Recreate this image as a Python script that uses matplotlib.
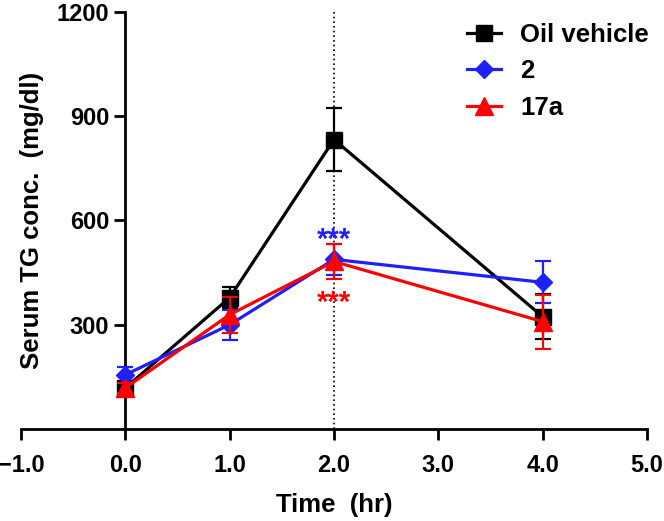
import numpy as np
import matplotlib
matplotlib.use("Agg")
import matplotlib.pyplot as plt
from matplotlib.lines import Line2D

plt.rcParams['font.family'] = ['Liberation Sans', 'DejaVu Sans']
plt.rcParams['font.weight'] = 'bold'

time = [0, 1, 2, 4]
oil = [118, 378, 833, 323]
oil_err = [15, 31, 90, 65]
cmp2 = [156, 300, 488, 422]
cmp2_err = [23, 43, 44, 60]
cmp17a = [118, 329, 482, 309]
cmp17a_err = [15, 52, 50, 78]
xticks = [-1, 0, 1, 2, 3, 4, 5]
yticks = [300, 600, 900, 1200]

fig = plt.figure(figsize=(6.64, 5.21), dpi=100)
ax = fig.add_axes([0.0316, 0.1766, 0.9428, 0.8004])

series = [(oil, oil_err, 'black', 's', 'Oil vehicle', 12, 3),
          (cmp2, cmp2_err, '#1f1fff', 'D', '2', 9.5, 4),
          (cmp17a, cmp17a_err, '#ff0000', '^', '17a', 13, 5)]
handles = []
for vals, err, col, mk, lab, ms, z in series:
    ax.errorbar(time, vals, yerr=err, color=col, marker=mk, markersize=ms,
                linewidth=2.3, elinewidth=1.6, capsize=6, capthick=1.6,
                zorder=z, clip_on=False)
    handles.append(Line2D([], [], color=col, marker=mk, markersize=ms,
                          linewidth=2.3, label=lab))

ax.axvline(2, color='black', linestyle=(0, (1, 1.8)), linewidth=1.2, zorder=1)

ax.text(2, 545, '***', color='#1f1fff', ha='center', va='center', fontsize=21)
ax.text(2, 362, '***', color='#ff0000', ha='center', va='center', fontsize=21)

ax.set_xlim(-1, 5)
ax.set_ylim(0, 1200)
ax.spines['left'].set_position(('data', 0))
ax.spines['top'].set_visible(False)
ax.spines['right'].set_visible(False)
for s in ['left', 'bottom']:
    ax.spines[s].set_linewidth(2)
ax.set_xticks(xticks)
ax.set_xticklabels(['\u22121.0', '0.0', '1.0', '2.0', '3.0', '4.0', '5.0'])
ax.set_yticks(yticks)
ax.tick_params(width=2, length=8, labelsize=17, direction='out')
ax.tick_params(axis='x', pad=10)

fig.text(334 / 664, 1 - 505 / 521, 'Time  (hr)', ha='center', va='center',
         fontsize=18.5, fontweight='bold')
fig.text(32 / 664, 1 - 220 / 521, 'Serum TG conc.  (mg/dl)', rotation=90,
         ha='center', va='center', fontsize=18.5, fontweight='bold')

leg = ax.legend(handles=handles, loc='upper right', bbox_to_anchor=(1.04, 1.03),
                frameon=False, fontsize=18.5, handlelength=1.3, labelspacing=0.5,
                handletextpad=0.75)

fig.savefig('out.png', dpi=100)
